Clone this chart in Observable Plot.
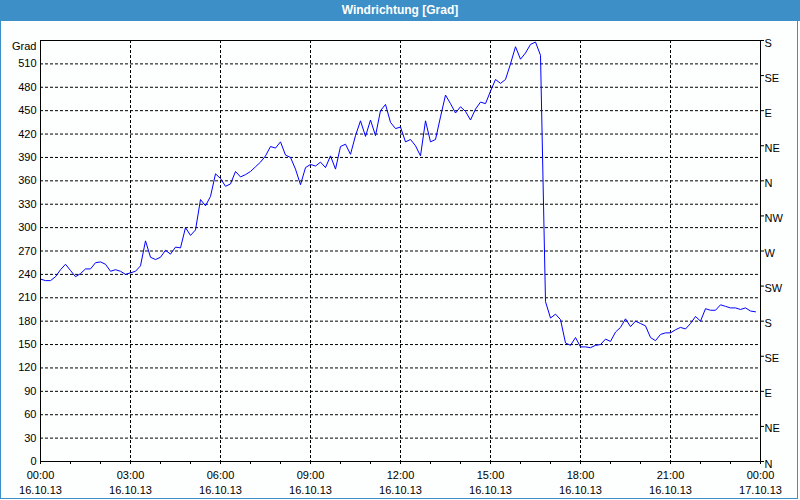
<!DOCTYPE html>
<html>
<head>
<meta charset="utf-8">
<script src="https://cdn.jsdelivr.net/npm/d3@7"></script>
<script src="https://cdn.jsdelivr.net/npm/@observablehq/plot@0.6"></script>
<style>
  html, body { margin: 0; padding: 0; background: #ffffff; }
  #wrap { position: relative; width: 800px; height: 500px; overflow: hidden; background: #fdfefe; font-family: "Liberation Sans", Arial, sans-serif; }
  #title { height: 21px; line-height: 21px; background: #3c8fc7; color: #ffffff; font-weight: bold; font-size: 12px; text-align: center; }
  #border { position: absolute; left: 0; top: 0; width: 796px; height: 497px; border: 1px solid #3c8fc7; pointer-events: none; }
  svg { display: block; }
</style>
</head>
<body>
<div id="wrap">
  <div id="title">Windrichtung [Grad]</div>
  <div id="chart"></div>
  <div id="border"></div>
</div>
<script>
// Wind direction readings, every 10 minutes from 16.10.13 00:00
const startTime = "2013-10-16T00:00:00Z";
const endTime = "2013-10-17T00:00:00Z";
const stepMinutes = 10;
const windDir = [
  234, 232, 232, 237, 246, 253, 245, 237, 241, 247,
  247, 255, 256, 253, 244, 246, 244, 240, 242, 244,
  251, 283, 262, 259, 262, 271, 266, 275, 274, 300,
  290, 297, 336, 328, 340, 369, 363, 353, 356, 372,
  365, 368, 372, 378, 384, 392, 404, 402, 410, 393,
  390, 375, 355, 377, 381, 379, 384, 377, 392, 375,
  404, 407, 394, 418, 437, 417, 438, 418, 450, 458,
  435, 427, 429, 410, 413, 405, 392, 437, 410, 413,
  442, 470, 459, 447, 455, 449, 438, 452, 461, 459,
  475, 490, 485, 490, 510, 532, 516, 524, 535, 538,
  521, 205, 184, 189, 182, 152, 149, 159, 147, 147,
  146, 149, 150, 157, 154, 166, 172, 183, 173, 180,
  177, 174, 159, 155, 163, 165, 165, 169, 172, 170,
  177, 186, 180, 196, 194, 194, 201, 199, 197, 197,
  195, 197, 193, 192
];
const yTicks = [0, 30, 60, 90, 120, 150, 180, 210, 240, 270, 300, 330, 360, 390, 420, 450, 480, 510, 540];
const compassValues = [0, 45, 90, 135, 180, 225, 270, 315, 360, 405, 450, 495, 540];
const compassLabels = ["N", "NE", "E", "SE", "S", "SW", "W", "NW", "N", "NE", "E", "SE", "S"];
const yUnit = "Grad";

const t0 = new Date(startTime);
const t1 = new Date(endTime);
const data = windDir.map((v, i) => ({ time: new Date(+t0 + i * stepMinutes * 60000), dir: v }));
const majorTicks = d3.utcHour.every(3).range(t0, new Date(+t1 + 1));
const minorTicks = d3.utcHour.every(1).range(t0, new Date(+t1 + 1));
const fmtT = d3.utcFormat("%H:%M");
const fmtD = d3.utcFormat("%d.%m.%y");

const chart = Plot.plot({
  width: 800,
  height: 479,
  marginLeft: 40,
  marginRight: 40,
  marginTop: 19,
  marginBottom: 39,
  style: { fontFamily: "'Liberation Sans', Arial, sans-serif", fontSize: "11px", color: "#000", background: "transparent" },
  x: { type: "utc", domain: [t0, t1], label: null },
  y: { domain: [0, 540], label: null },
  marks: [
    Plot.gridY(yTicks, { stroke: "#000", strokeOpacity: 1, strokeDasharray: "3,2" }),
    Plot.gridX(majorTicks, { stroke: "#000", strokeOpacity: 1, strokeDasharray: "3,2" }),
    Plot.line(data, { x: "time", y: "dir", stroke: "#0000ff", strokeWidth: 1 }),
    Plot.frame({ stroke: "#000", strokeWidth: 1 }),
    Plot.axisY(yTicks.filter(v => v < 540), { anchor: "left", tickSize: 0, tickPadding: 4, label: null }),
    Plot.axisY(compassValues, { anchor: "right", tickSize: 3, label: null, tickFormat: () => "" }),
    Plot.axisY(compassValues, { anchor: "right", tickSize: 0, tickPadding: 4, label: null, dy: 2.5, tickFormat: (d, i) => compassLabels[i] }),
    Plot.axisX(minorTicks, { anchor: "bottom", tickSize: 3, tickFormat: () => "", label: null }),
    Plot.axisX(majorTicks, { anchor: "bottom", tickSize: 0, tickPadding: 7, label: null, lineHeight: 1.35, tickFormat: d => fmtT(d) + "\n" + fmtD(d) }),
    Plot.text([yUnit], { frameAnchor: "top-left", text: d => d, dx: -4, dy: 6, textAnchor: "end", lineAnchor: "middle" })
  ]
});
document.getElementById("chart").appendChild(chart);
</script>
</body>
</html>
